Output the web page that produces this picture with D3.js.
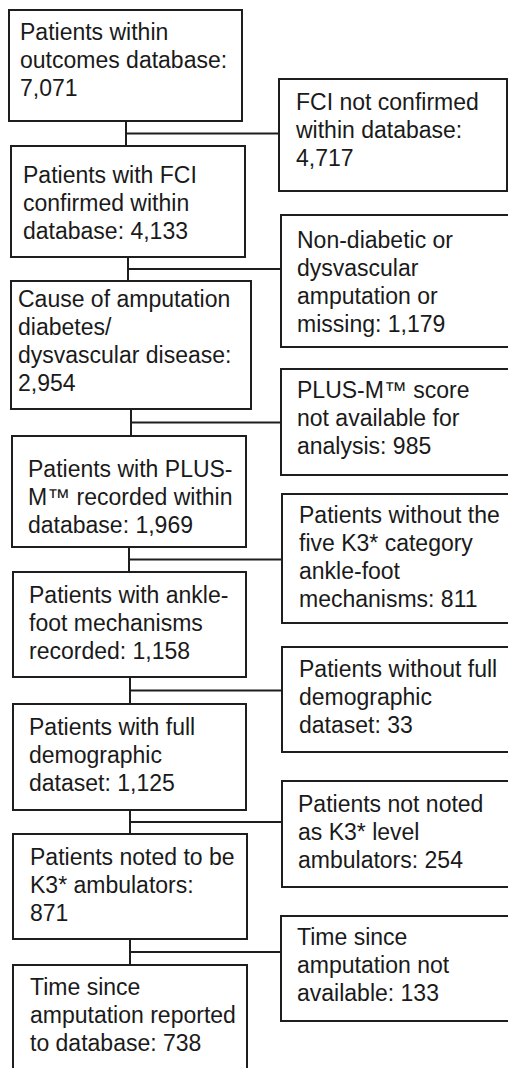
<!DOCTYPE html>
<html>
<head>
<meta charset="utf-8">
<script src="https://cdn.jsdelivr.net/npm/d3@7"></script>
<style>
  html, body { margin: 0; padding: 0; background: #fff; overflow: hidden; }
  svg { display: block; }
</style>
</head>
<body>
<div id="chart"></div>
<script>
// counts retained at each step, and counts dropped at each step
const includedCounts = [7071, 4133, 2954, 1969, 1158, 1125, 871, 738];
const excludedCounts = [4717, 1179, 985, 811, 33, 254, 133];

// box wording, "{n}" is where the count goes
const includedLabels = [
    ["Patients within", "outcomes database:", "{n}"],
    ["Patients with FCI", "confirmed within", "database: {n}"],
    ["Cause of amputation", "diabetes/", "dysvascular disease:", "{n}"],
    ["Patients with PLUS-", "M\u2122 recorded within", "database: {n}"],
    ["Patients with ankle-", "foot mechanisms", "recorded: {n}"],
    ["Patients with full", "demographic", "dataset: {n}"],
    ["Patients noted to be", "K3* ambulators:", "{n}"],
    ["Time since", "amputation reported", "to database: {n}"]
];
const excludedLabels = [
    ["FCI not confirmed", "within database:", "{n}"],
    ["Non-diabetic or", "dysvascular", "amputation or", "missing: {n}"],
    ["PLUS-M\u2122 score", "not available for", "analysis: {n}"],
    ["Patients without the", "five K3* category", "ankle-foot", "mechanisms: {n}"],
    ["Patients without full", "demographic", "dataset: {n}"],
    ["Patients not noted", "as K3* level", "ambulators: {n}"],
    ["Time since", "amputation not", "available: {n}"]
];

// box geometry (layout only): [x0, y0, x1, y1, text x, first baseline]
const leftBoxes = [
    [9, 10, 242, 121, 20, 40],
    [11, 146, 245, 257, 23, 183],
    [11, 281, 251, 409, 18, 307],
    [12, 436, 246, 547, 28, 477],
    [13, 572, 246, 677, 29, 603],
    [13, 704, 246, 810, 29, 735],
    [13, 834, 247, 939, 30, 865],
    [13, 965, 247, 1085, 30, 995]
];
const rightBoxes = [
    [279, 79, 507, 191, 296, 110],
    [281, 215, 512, 347, 297, 248],
    [281, 369, 512, 475, 297, 398],
    [282, 494, 512, 623, 299, 523],
    [282, 647, 512, 752, 299, 677],
    [282, 781, 512, 887, 298, 812],
    [281, 916, 512, 1021, 297, 945]
];

const width = 508, height = 1068;
const lineStep = 28;
const fmt = d3.format(",");
const ink = "#1e1e1e";

const svg = d3.select("#chart").append("svg")
    .attr("width", width)
    .attr("height", height);

// connectors first so the boxes sit on top
const links = svg.append("g")
    .attr("fill", "none")
    .attr("stroke", ink)
    .attr("stroke-width", 2);

leftBoxes.slice(0, -1).forEach(function(b, i) {
    const next = leftBoxes[i + 1];
    const cx = Math.round((b[0] + b[2]) / 2);
    const my = (b[3] + next[1]) / 2;
    links.append("line")
        .attr("x1", cx).attr("y1", b[3])
        .attr("x2", cx).attr("y2", next[1]);
    links.append("line")
        .attr("x1", cx).attr("y1", my)
        .attr("x2", rightBoxes[i][0]).attr("y2", my);
});

function drawBoxes(cls, boxes, labels, counts) {
    const g = svg.selectAll("g." + cls)
        .data(boxes.map(function(b, i) {
            return { box: b, lines: labels[i], n: counts[i] };
        }))
        .enter()
        .append("g")
        .classed(cls, true);

    g.append("rect")
        .attr("x", function(d) { return d.box[0]; })
        .attr("y", function(d) { return d.box[1]; })
        .attr("width", function(d) { return d.box[2] - d.box[0]; })
        .attr("height", function(d) { return d.box[3] - d.box[1]; })
        .attr("fill", "#fff")
        .attr("stroke", ink)
        .attr("stroke-width", 2);

    g.append("text")
        .attr("font-family", "'Liberation Sans', Arial, sans-serif")
        .attr("font-size", 23)
        .attr("fill", "#1a1a1a")
        .each(function(d) {
            const t = d3.select(this);
            d.lines.forEach(function(s, k) {
                t.append("tspan")
                    .attr("x", d.box[4])
                    .attr("y", d.box[5] + k * lineStep)
                    .text(s.replace("{n}", fmt(d.n)));
            });
        });
}

drawBoxes("kept", leftBoxes, includedLabels, includedCounts);
drawBoxes("dropped", rightBoxes, excludedLabels, excludedCounts);
</script>
</body>
</html>
